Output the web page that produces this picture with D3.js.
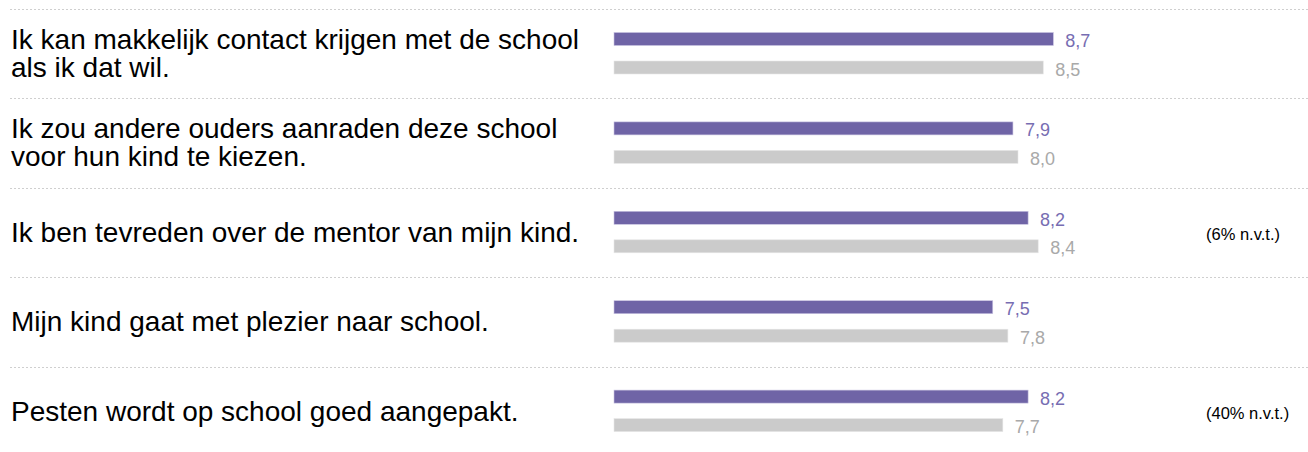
<!DOCTYPE html>
<html>
<head>
<meta charset="utf-8">
<script src="https://cdn.jsdelivr.net/npm/d3@7"></script>
<style>
  body { margin: 0; background: #fff; }
  text { font-family: "Liberation Sans", Arial, sans-serif; }
</style>
</head>
<body>
<div id="chart"></div>
<script>
// Statements (left column), split into display lines
const statements = [
    ["Ik kan makkelijk contact krijgen met de school", "als ik dat wil."],
    ["Ik zou andere ouders aanraden deze school", "voor hun kind te kiezen."],
    ["Ik ben tevreden over de mentor van mijn kind."],
    ["Mijn kind gaat met plezier naar school."],
    ["Pesten wordt op school goed aangepakt."]
];
// School score (purple) and benchmark (grey)
const schoolValues = [8.7, 7.9, 8.2, 7.5, 8.2];
const benchmarkValues = [8.5, 8.0, 8.4, 7.8, 7.7];
// Share "niet van toepassing" notes
const notes = ["", "", "(6% n.v.t.)", "", "(40% n.v.t.)"];

const width = 1308;
const height = 452;
const rowTop = 9;
const rowH = 89.4;
const barH = 13;

const svg = d3.select("#chart")
    .append("svg")
    .attr("width", width)
    .attr("height", height);

const x = d3.scaleLinear().domain([0, 10]).range([614, 1119]);
const y = d3.scaleLinear().domain([0, 1]).range([rowTop, rowTop + rowH]);

const fmt = v => d3.format(".1f")(v).replace(".", ",");

// dotted separators
svg.append("g")
    .selectAll("line")
    .data(statements)
    .enter()
    .append("line")
    .attr("x1", 10)
    .attr("x2", width)
    .attr("y1", (d, i) => Math.round(y(i)) + 0.5)
    .attr("y2", (d, i) => Math.round(y(i)) + 0.5)
    .attr("stroke", "#cfcfcf")
    .attr("stroke-dasharray", "2,2");

const row = svg.append("g")
    .selectAll("g")
    .data(statements)
    .enter()
    .append("g")
    .attr("transform", (d, i) => `translate(0,${y(i)})`);

// statement text
row.append("text")
    .attr("x", 11)
    .attr("font-size", 28)
    .attr("fill", "#000")
    .each(function(d) {
        const lineH = 28.5;
        const first = 54 - (d.length - 1) * 14.5;
        d3.select(this).selectAll("tspan")
            .data(d)
            .enter()
            .append("tspan")
            .attr("x", 11)
            .attr("y", (t, j) => first + j * lineH)
            .text(t => t);
    });

// school bars
row.append("rect")
    .attr("x", x(0))
    .attr("y", 23.5)
    .attr("width", (d, i) => x(schoolValues[i]) - x(0))
    .attr("height", barH)
    .attr("fill", "#6f64a6")
    .attr("stroke", "#c9c4e2")
    .attr("stroke-width", 0.6);

row.append("text")
    .attr("x", (d, i) => x(schoolValues[i]) + 12)
    .attr("y", 38)
    .attr("font-size", 18)
    .attr("fill", "#776db2")
    .text((d, i) => fmt(schoolValues[i]));

// benchmark bars
row.append("rect")
    .attr("x", x(0))
    .attr("y", 52)
    .attr("width", (d, i) => x(benchmarkValues[i]) - x(0))
    .attr("height", barH)
    .attr("fill", "#cbcbcb")
    .attr("stroke", "#e6e6e6")
    .attr("stroke-width", 0.6);

row.append("text")
    .attr("x", (d, i) => x(benchmarkValues[i]) + 12)
    .attr("y", 66.5)
    .attr("font-size", 18)
    .attr("fill", "#a9a9a9")
    .text((d, i) => fmt(benchmarkValues[i]));

// n.v.t. notes
row.append("text")
    .attr("x", 1206)
    .attr("y", 52)
    .attr("font-size", 16.5)
    .attr("fill", "#000")
    .text((d, i) => notes[i]);
</script>
</body>
</html>
